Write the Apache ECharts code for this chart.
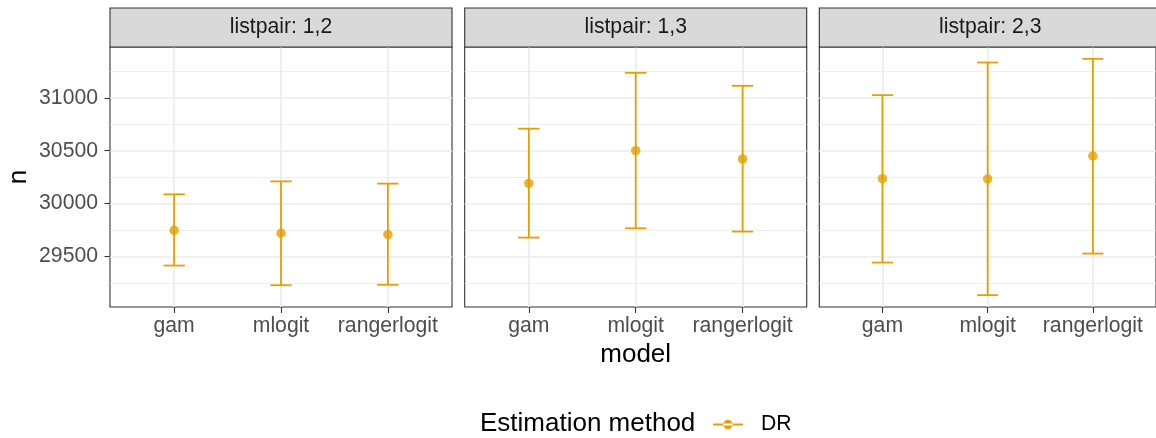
<!DOCTYPE html>
<html><head><meta charset="utf-8">
<script src="https://cdn.jsdelivr.net/npm/echarts@6/dist/echarts.min.js"></script>
<style>html,body{margin:0;padding:0;background:#fff}#c{width:1156px;height:438px}</style>
</head><body><div id="c"></div>
<script>
// ---- data ----
const categories = ['gam', 'mlogit', 'rangerlogit'];
const panelTitles = ['listpair: 1,2', 'listpair: 1,3', 'listpair: 2,3'];
const estimate12 = [29748, 29720, 29708];
const lower12    = [29415, 29229, 29233];
const upper12    = [30088, 30210, 30189];
const estimate13 = [30191, 30500, 30422];
const lower13    = [29679, 29767, 29736];
const upper13    = [30708, 31236, 31113];
const estimate23 = [30236, 30233, 30450];
const lower23    = [29443, 29135, 29528];
const upper23    = [31025, 31333, 31368];
const yTicks      = [29500, 30000, 30500, 31000];
const yMinorTicks = [29250, 29750, 30250, 30750, 31250];
const seriesName = 'DR';
const legendTitle = 'Estimation method';
const xTitle = 'model';
const yTitle = 'n';

// ---- layout / style ----
const COLOR = '#E69F00';
const FONT = 'Liberation Sans, Arial, sans-serif';
const SMALL = 21.2, LARGE = 26;
const panelLefts = [110, 464.7, 819.3];
const panelWidth = 342, panelTop = 47, panelHeight = 260, stripTop = 8;
const panels = [
  {est: estimate12, lo: lower12, hi: upper12},
  {est: estimate13, lo: lower13, hi: upper13},
  {est: estimate23, lo: lower23, hi: upper23}
];
const allLo = Math.min(...lower12, ...lower13, ...lower23);
const allHi = Math.max(...upper12, ...upper13, ...upper23);
const pad = 0.05 * (allHi - allLo);
const yMin = allLo - pad, yMax = allHi + pad;
const catPos = categories.map((c, i) => i + 1);

const chart = echarts.init(document.getElementById('c'), null, {renderer: 'canvas'});

const grid = [], xAxis = [], yAxis = [], series = [], graphic = [];
panels.forEach((p, i) => {
  grid.push({left: panelLefts[i], top: panelTop, width: panelWidth, height: panelHeight,
    show: true, borderColor: '#333333', borderWidth: 1.1, backgroundColor: '#ffffff'});
  xAxis.push({
    type: 'value', gridIndex: i, min: 0.4, max: 3.6,
    axisLine: {show: false},
    axisTick: {show: true, customValues: catPos, length: 6, lineStyle: {color: '#333333', width: 1.1}},
    axisLabel: {show: true, customValues: catPos, margin: 9,
      formatter: v => categories[Math.round(v) - 1] || '',
      fontFamily: FONT, fontSize: SMALL, color: '#4D4D4D'},
    splitLine: {show: false},
    name: i === 1 ? xTitle : '', nameLocation: 'middle', nameGap: 35,
    nameTextStyle: {fontFamily: FONT, fontSize: LARGE, color: '#000000'}
  });
  yAxis.push({
    type: 'value', gridIndex: i, min: yMin, max: yMax,
    axisLine: {show: false},
    axisTick: {show: i === 0, customValues: yTicks, length: 5.5, lineStyle: {color: '#333333', width: 1.1}},
    axisLabel: {show: i === 0, customValues: yTicks, margin: 12, formatter: v => String(v),
      fontFamily: FONT, fontSize: SMALL, color: '#4D4D4D'},
    splitLine: {show: false},
    name: i === 0 ? yTitle : '', nameLocation: 'middle', nameGap: 78, nameRotate: 90,
    nameTextStyle: {fontFamily: FONT, fontSize: LARGE, color: '#000000'}
  });
  // gridlines
  series.push({
    type: 'line', xAxisIndex: i, yAxisIndex: i, data: [], z: 1, silent: true,
    markLine: {z: 1, silent: true, symbol: ['none', 'none'], label: {show: false}, animation: false,
      lineStyle: {color: '#EBEBEB', type: 'solid', width: 0.8},
      data: yMinorTicks.map(v => ({yAxis: v}))}
  });
  series.push({
    type: 'line', xAxisIndex: i, yAxisIndex: i, data: [], z: 1, silent: true,
    markLine: {z: 1, silent: true, symbol: ['none', 'none'], label: {show: false}, animation: false,
      lineStyle: {color: '#EBEBEB', type: 'solid', width: 1.6},
      data: yTicks.map(v => ({yAxis: v})).concat(catPos.map(v => ({xAxis: v})))}
  });
  // error bars
  series.push({
    type: 'custom', name: seriesName, xAxisIndex: i, yAxisIndex: i, z: 20,
    data: catPos.map((x, k) => [x, p.lo[k], p.hi[k]]),
    encode: {x: 0, y: [1, 2]},
    renderItem: (params, api) => {
      const x = api.value(0), lo = api.value(1), hi = api.value(2);
      const a = api.coord([x, lo]), b = api.coord([x, hi]);
      const half = api.size([0.1, 0])[0];
      const style = {stroke: COLOR, lineWidth: 1.8, fill: null};
      return {type: 'group', children: [
        {type: 'line', shape: {x1: a[0], y1: b[1], x2: a[0], y2: a[1]}, style},
        {type: 'line', shape: {x1: b[0] - half, y1: b[1], x2: b[0] + half, y2: b[1]}, style},
        {type: 'line', shape: {x1: a[0] - half, y1: a[1], x2: a[0] + half, y2: a[1]}, style}
      ]};
    }
  });
  // points
  series.push({
    type: 'scatter', name: seriesName, xAxisIndex: i, yAxisIndex: i, z: 21,
    symbol: 'circle', symbolSize: 9.5, itemStyle: {color: COLOR},
    data: catPos.map((x, k) => [x, p.est[k]])
  });
  // strip
  graphic.push({type: 'rect', z: 30,
    shape: {x: panelLefts[i], y: stripTop, width: panelWidth, height: panelTop - stripTop},
    style: {fill: '#D9D9D9', stroke: '#333333', lineWidth: 1.1}});
  graphic.push({type: 'text', z: 31, x: panelLefts[i] + panelWidth / 2, y: (stripTop + panelTop) / 2,
    style: {text: panelTitles[i], fill: '#1A1A1A', fontSize: SMALL,
      fontFamily: FONT, align: 'center', verticalAlign: 'middle'}});
});
graphic.push({type: 'text', x: 480, y: 424,
  style: {text: legendTitle, fill: '#000000', fontSize: LARGE,
    fontFamily: FONT, align: 'left', verticalAlign: 'middle'}});

chart.setOption({
  animation: false,
  backgroundColor: '#ffffff',
  grid, xAxis, yAxis, series, graphic,
  legend: {
    data: [seriesName], left: 713, top: 414, padding: 0, itemWidth: 30, itemHeight: 10,
    icon: 'path://M0,4.1h30v1.8h-30z M10.25,5a4.75,4.75 0 1,0 9.5,0a4.75,4.75 0 1,0 -9.5,0z',
    itemStyle: {color: COLOR},
    selectedMode: false,
    textStyle: {fontFamily: FONT, fontSize: SMALL, color: '#000000', padding: [0, 0, 0, 13]}
  }
});
</script></body></html>
